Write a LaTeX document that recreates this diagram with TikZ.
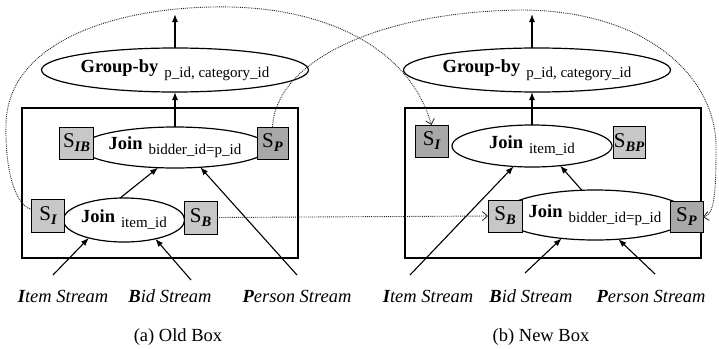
\documentclass[tikz,border=0pt]{standalone}
\usepackage{fontspec}
\setmainfont{Liberation Serif}
\usetikzlibrary{shapes.geometric,arrows.meta}

% operator label: bold name with lowered parameter text
\newcommand{\subtext}[1]{\raisebox{-5pt}{\fontsize{15}{15}\selectfont #1}}
\newcommand{\oplabel}[2]{\textbf{#1}\hspace{6pt}\subtext{#2}}
% buffer label: S with bold italic subscript
\newcommand{\buflabel}[1]{S\raisebox{-4pt}{\fontsize{14.5}{15}\selectfont\bfseries\itshape #1}}
% stream label: bold italic initial, italic rest
\newcommand{\srclabel}[2]{{\bfseries\itshape #1}\textit{#2}}

\tikzset{
  op/.style={ellipse, draw, line width=1.2pt, inner sep=0pt, outer sep=0pt,
    font=\fontsize{18.5}{20}\selectfont},
  buf/.style={rectangle, draw, line width=1pt, fill=black!22, minimum width=33pt,
    minimum height=32pt, inner sep=0pt, outer sep=0pt, font=\fontsize{21}{22}\selectfont},
  bufdark/.style={buf, fill=black!34},
  boxframe/.style={rectangle, draw, line width=1.4pt, inner sep=0pt, outer sep=0pt},
  srctext/.style={inner sep=0pt, font=\fontsize{18.5}{20}\selectfont},
  captext/.style={inner sep=0pt, font=\fontsize{18.5}{20}\selectfont},
  streamarrow/.style={line width=1.1pt, -{Latex[length=8pt,width=6pt]}},
  feed/.style={densely dotted, line width=0.9pt, black!85,
    -{Straight Barb[length=5pt,width=9pt,line width=0.8pt]}},
}

\begin{document}
\begin{tikzpicture}[x=1pt,y=-1pt]
\useasboundingbox (0,0) rectangle (719,348);

% ---------- (a) old box ----------
\node[boxframe, minimum width=276pt, minimum height=150pt] (box1) at (160,183) {};
\node[op, minimum width=210pt, minimum height=44pt] (gb1) at (175,70)
  {\oplabel{Group-by}{p\_id, category\_id}};
\node[op, minimum width=164pt, minimum height=41pt] (j1up) at (175,147.5)
  {\oplabel{Join}{bidder\_id=p\_id}};
\node[op, minimum width=118pt, minimum height=44pt] (j1lo) at (124,220)
  {\oplabel{Join}{item\_id}};
\node[buf, minimum width=34pt] (sib) at (76.5,143) {\buflabel{IB}};
\node[bufdark, minimum width=31pt] (sp1) at (272.5,143) {\buflabel{P}};
\node[buf, minimum width=33pt, minimum height=33pt] (si1) at (48,215.5) {\buflabel{I}};
\node[buf, minimum height=33pt] (sb1) at (200.5,217.5) {\buflabel{B}};

\node[srctext] (item1) at (63,296) {\srclabel{I}{tem Stream}};
\node[srctext] (bid1) at (170,296) {\srclabel{B}{id Stream}};
\node[srctext] (person1) at (297,296) {\srclabel{P}{erson Stream}};
\node[captext] (cap1) at (178,337) {(a) Old Box};

\coordinate (top1) at (175,14);
\coordinate (i1t) at (53,275);
\coordinate (b1t) at (191,280);
\coordinate (p1t) at (297,275);

\draw[streamarrow] (gb1.north) -- (top1);
\draw[streamarrow] (j1up.north) -- (gb1.south);
\draw[streamarrow] (j1lo.100) -- (j1up.230);
\draw[streamarrow] (p1t) -- (j1up.322);
\draw[streamarrow] (i1t) -- (j1lo.207);
\draw[streamarrow] (b1t) -- (j1lo.329);

% ---------- (b) new box ----------
\node[boxframe, minimum width=296pt, minimum height=150pt] (box2) at (553,183) {};
\node[op, minimum width=216pt, minimum height=44pt] (gb2) at (537,70)
  {\oplabel{Group-by}{p\_id, category\_id}};
\node[op, minimum width=160pt, minimum height=42pt] (j2up) at (532,146)
  {\oplabel{Join}{item\_id}};
\node[op, minimum width=146pt, minimum height=50pt] (j2lo) at (595,215)
  {\oplabel{Join}{bidder\_id=p\_id}};
\node[bufdark] (si2) at (431.5,141) {\buflabel{I}};
\node[buf, minimum width=32pt] (sbp) at (629,142.5) {\buflabel{BP}};
\node[buf, minimum width=34pt] (sb2) at (505,216) {\buflabel{B}};
\node[bufdark, minimum height=31pt] (sp2) at (686.5,217) {\buflabel{P}};

\node[srctext] (item2) at (428,296) {\srclabel{I}{tem Stream}};
\node[srctext] (bid2) at (531,296) {\srclabel{B}{id Stream}};
\node[srctext] (person2) at (651,296) {\srclabel{P}{erson Stream}};
\node[captext] (cap2) at (541,337) {(b) New Box};

\coordinate (top2) at (532,14);
\coordinate (i2t) at (410,275);
\coordinate (b2t) at (525,273);
\coordinate (p2t) at (655,274);

\draw[streamarrow] (gb2.north -| top2) -- (top2);
\draw[streamarrow] (j2up.north) -- (j2up.north |- gb2.south);
\draw[streamarrow] (j2lo.118) -- (j2up.325);
\draw[streamarrow] (i2t) -- (j2up.228);
\draw[streamarrow] (b2t) -- (j2lo.215);
\draw[streamarrow] (p2t) -- (j2lo.314);

% ---------- state migration between the boxes ----------
\draw[feed] (sb1.east) -- (sb2.west);
\draw[feed] (si1.160) .. controls (15,205) and (5,170) .. (6,125)
  .. controls (7,40) and (120,5) .. (230,7)
  .. controls (330,9) and (410,50) .. (si2.north);
\draw[feed] (sp1.north) .. controls (276,60) and (380,12) .. (520,10)
  .. controls (650,10) and (718,80) .. (716,150)
  .. controls (716,195) and (714,215) .. (sp2.east);
\end{tikzpicture}
\end{document}
